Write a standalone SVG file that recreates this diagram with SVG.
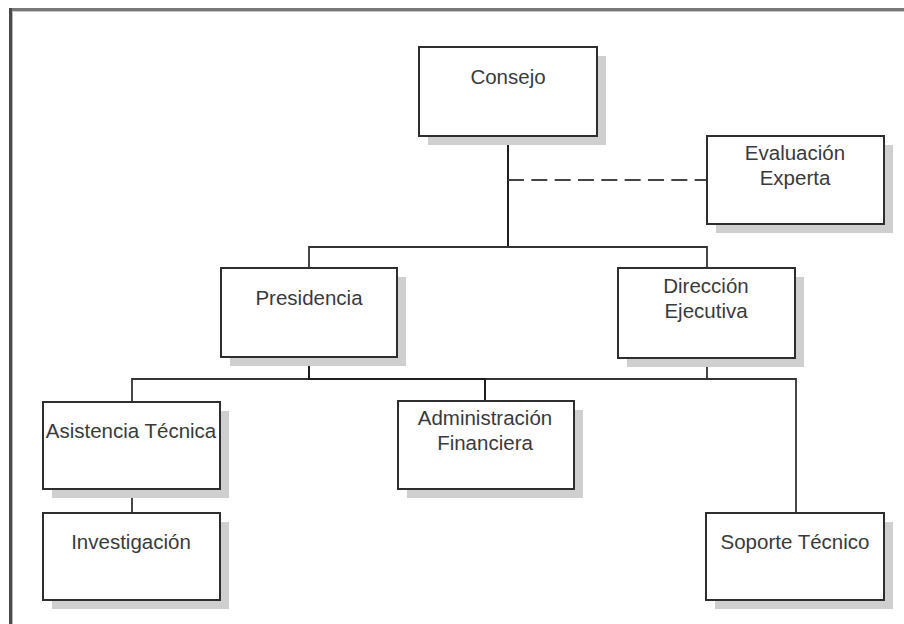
<svg xmlns="http://www.w3.org/2000/svg" width="904" height="624" viewBox="0 0 904 624">
<defs>
<style>
.shadow{fill:#cfcfcf;stroke:none}
.box{fill:#ffffff;stroke:#2e2e2e;stroke-width:2}
.lbl{font-family:"Liberation Sans",Arial,sans-serif;font-size:20.5px;fill:#3a3a3a;text-anchor:middle}
.conn{fill:none;stroke:#333333;stroke-width:1.8}
.conn-strong{fill:none;stroke:#1e1e1e;stroke-width:2}
.dash{fill:none;stroke:#444444;stroke-width:2;stroke-dasharray:16 7.33}
</style>
</defs>
<rect x="0" y="0" width="904" height="624" fill="#ffffff"/>
<rect x="9" y="8" width="895" height="3" fill="#777777"/>
<rect x="9" y="11" width="895" height="1" fill="#c8c8c8"/>
<rect x="9" y="8" width="3" height="616" fill="#4a4a4a"/>
<rect x="12" y="11" width="1" height="613" fill="#bbbbbb"/>

<g id="connectors">
<path class="conn-strong" d="M508 136 V247"/>
<path class="conn" d="M309 268 V247 H707 V268"/>
<path class="dash" d="M508 180 H707"/>
<path class="conn" d="M132 402 V379 H796 V513"/>
<path class="conn-strong" d="M309 357 V379 H485 V401"/>
<path class="conn" d="M707 358 V379"/>
<path class="conn" d="M132 489 V513"/>
</g>

<g id="consejo">
<rect class="shadow" x="428" y="56" width="178" height="89"/>
<rect class="box" x="419" y="47" width="178" height="89"/>
<text class="lbl" x="508" y="84">Consejo</text>
</g>

<g id="evaluacion-experta">
<rect class="shadow" x="716" y="145" width="177" height="88"/>
<rect class="box" x="707" y="136" width="177" height="88"/>
<text class="lbl" x="795" y="160">Evaluación</text>
<text class="lbl" x="795" y="185">Experta</text>
</g>

<g id="presidencia">
<rect class="shadow" x="230" y="277" width="176" height="89"/>
<rect class="box" x="221" y="268" width="176" height="89"/>
<text class="lbl" x="309" y="305">Presidencia</text>
</g>

<g id="direccion-ejecutiva">
<rect class="shadow" x="627" y="277" width="177" height="90"/>
<rect class="box" x="618" y="268" width="177" height="90"/>
<text class="lbl" x="706" y="293">Dirección</text>
<text class="lbl" x="706" y="318">Ejecutiva</text>
</g>

<g id="asistencia-tecnica">
<rect class="shadow" x="52" y="411" width="177" height="87"/>
<rect class="box" x="43" y="402" width="177" height="87"/>
<text class="lbl" x="131" y="438">Asistencia Técnica</text>
</g>

<g id="administracion-financiera">
<rect class="shadow" x="407" y="410" width="176" height="88"/>
<rect class="box" x="398" y="401" width="176" height="88"/>
<text class="lbl" x="485" y="425">Administración</text>
<text class="lbl" x="485" y="450">Financiera</text>
</g>

<g id="investigacion">
<rect class="shadow" x="52" y="522" width="177" height="87"/>
<rect class="box" x="43" y="513" width="177" height="87"/>
<text class="lbl" x="131" y="549">Investigación</text>
</g>

<g id="soporte-tecnico">
<rect class="shadow" x="715" y="522" width="178" height="87"/>
<rect class="box" x="706" y="513" width="178" height="87"/>
<text class="lbl" x="795" y="549">Soporte Técnico</text>
</g>
</svg>
